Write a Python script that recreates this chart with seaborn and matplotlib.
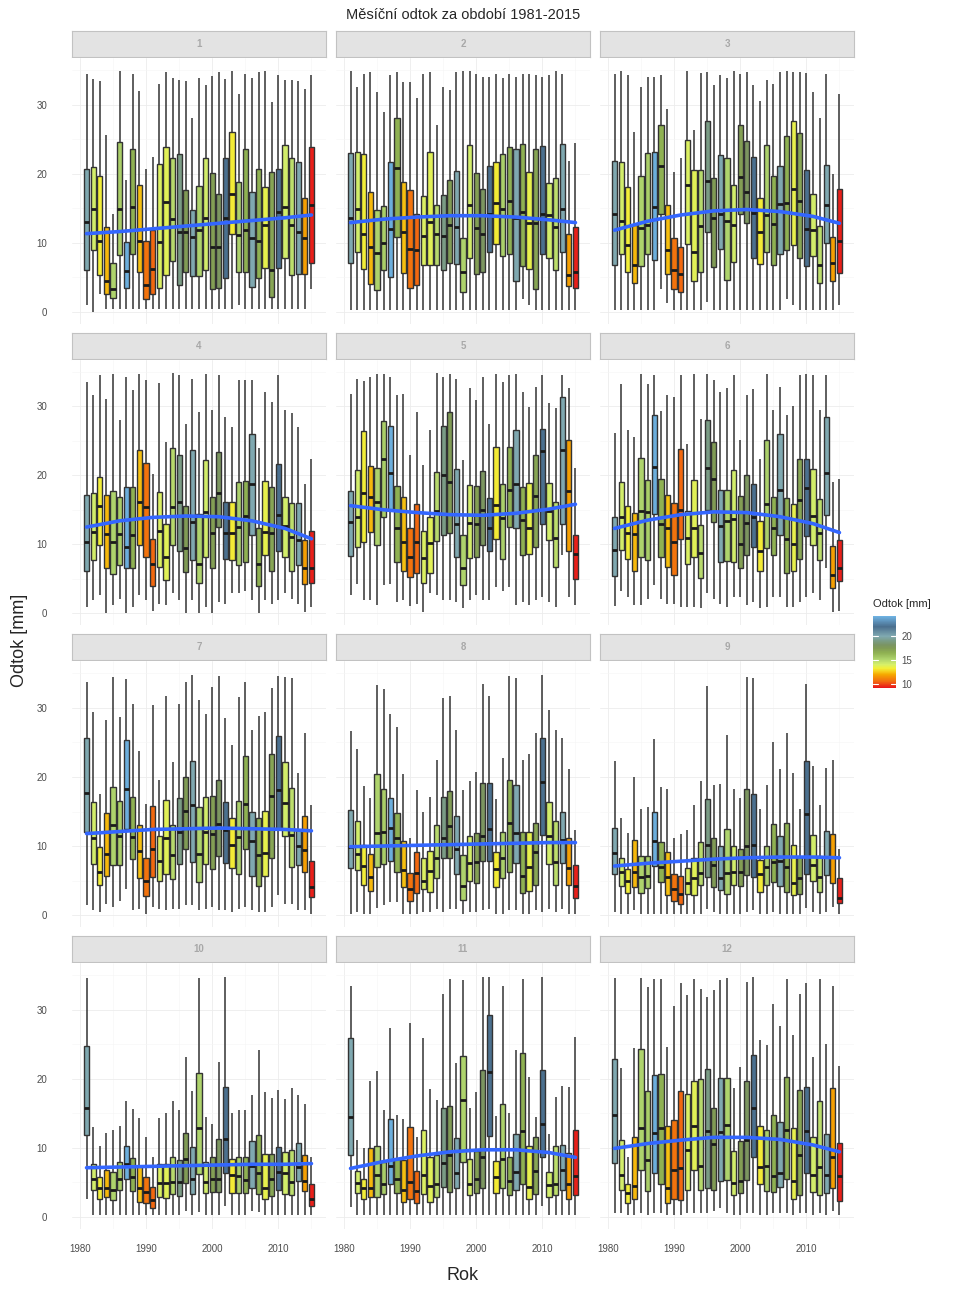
import pandas as pd
import seaborn as sns
import matplotlib.pyplot as plt
from matplotlib.colors import LinearSegmentedColormap, Normalize
from matplotlib.cm import ScalarMappable
from matplotlib.ticker import MultipleLocator

sns.set_theme(style="white")
plt.rcParams['font.family'] = ['Liberation Sans', 'DejaVu Sans']

W, H = 971, 1295

years = list(range(1981, 2016))
months = [str(i) for i in range(1, 13)]

# annual runoff used for the fill colour of every year
annual = [20.0, 14.2, 13.3, 12.3, 15.2, 15.4, 24.0, 16.5, 12.4, 10.8,
          10.6, 14.0, 13.8, 15.0, 19.0, 17.5, 20.0, 15.2, 14.2, 17.3,
          18.0, 22.0, 13.2, 15.3, 16.5, 20.0, 16.5, 13.6, 17.0, 22.0,
          14.2, 14.8, 20.0, 11.8, 9.4]

hi_vals = [
    [34.5, 33.7, 33.4, 25.6, 14.1, 34.8, 19.0, 34.4, 31.9, 20.7, 22.4, 33.0, 34.7, 33.8, 33.5, 33.4, 28.0, 33.9, 32.8, 34.2, 34.7, 33.7, 34.8, 31.6, 34.5, 33.9, 34.7, 34.8, 30.4, 34.3, 33.5, 33.5, 33.4, 32.2, 34.3],
    [34.8, 32.6, 34.5, 34.7, 31.8, 28.9, 34.3, 34.7, 33.3, 33.3, 31.0, 34.5, 34.7, 27.0, 32.6, 32.1, 34.7, 34.8, 34.8, 34.5, 34.0, 34.0, 34.5, 33.8, 34.5, 34.0, 34.5, 34.5, 34.3, 34.0, 34.3, 34.8, 34.5, 21.8, 24.4],
    [34.5, 34.8, 34.3, 26.0, 32.6, 34.0, 34.0, 34.3, 29.4, 20.2, 22.2, 34.8, 26.3, 34.6, 34.7, 32.9, 34.3, 33.8, 34.8, 34.5, 34.7, 32.8, 30.5, 33.5, 33.0, 34.7, 34.8, 34.7, 34.7, 34.6, 31.8, 28.1, 34.5, 20.0, 31.6],
    [33.5, 31.7, 34.5, 31.1, 34.7, 28.0, 34.2, 32.4, 34.7, 33.8, 20.2, 33.4, 24.8, 34.8, 34.6, 27.5, 34.0, 29.2, 34.7, 29.4, 34.5, 28.5, 27.0, 33.8, 33.8, 33.8, 23.9, 32.1, 30.6, 34.5, 29.4, 29.0, 27.0, 18.8, 22.4],
    [31.8, 34.0, 33.7, 34.3, 34.7, 34.7, 34.3, 31.6, 31.8, 22.9, 29.2, 21.5, 26.5, 34.8, 34.3, 34.7, 34.0, 22.2, 32.6, 30.9, 34.3, 27.5, 34.7, 33.5, 34.5, 34.7, 32.1, 29.9, 32.8, 34.5, 30.5, 29.7, 34.6, 32.7, 21.0],
    [26.1, 33.2, 26.5, 25.6, 34.7, 33.2, 34.5, 29.3, 31.7, 31.4, 34.6, 24.6, 34.7, 28.1, 34.7, 33.8, 32.0, 32.7, 34.5, 25.1, 31.6, 32.5, 22.4, 34.7, 29.5, 32.8, 28.7, 30.1, 34.5, 34.7, 34.5, 29.4, 34.5, 19.0, 19.5],
    [33.8, 29.4, 17.6, 28.2, 34.5, 28.7, 34.2, 30.6, 23.7, 16.1, 30.4, 19.5, 31.8, 22.2, 30.6, 33.8, 34.8, 31.1, 29.2, 33.0, 34.7, 28.5, 24.7, 31.6, 33.7, 26.8, 28.8, 29.4, 32.9, 34.7, 34.5, 34.3, 20.6, 26.4, 16.0],
    [26.6, 24.0, 18.7, 16.9, 33.3, 32.8, 29.2, 27.2, 20.4, 11.2, 18.1, 14.9, 17.1, 22.4, 31.4, 31.8, 26.8, 18.1, 19.4, 20.7, 33.5, 31.8, 16.8, 22.8, 34.7, 34.3, 22.4, 23.4, 26.4, 34.8, 29.7, 26.8, 25.7, 21.1, 12.3],
    [22.3, 14.1, 11.9, 20.0, 15.4, 15.6, 25.5, 18.5, 18.2, 11.1, 11.8, 12.3, 16.0, 19.4, 33.2, 18.9, 19.0, 26.1, 18.3, 16.9, 34.5, 34.3, 15.3, 18.8, 25.1, 21.2, 26.4, 20.6, 15.3, 33.5, 21.6, 16.0, 21.3, 22.4, 9.5],
    [34.6, 13.0, 10.2, 12.1, 12.5, 13.1, 16.8, 15.6, 14.3, 11.5, 8.7, 14.3, 15.0, 16.7, 15.4, 23.1, 18.2, 34.6, 14.4, 13.5, 22.4, 34.8, 15.0, 15.4, 15.4, 17.7, 24.2, 18.1, 17.2, 18.3, 17.1, 18.6, 17.7, 16.4, 8.7],
    [33.4, 11.1, 9.9, 19.7, 21.1, 15.5, 27.4, 14.8, 14.1, 28.1, 11.6, 25.9, 18.5, 16.9, 32.3, 34.5, 22.3, 34.3, 15.7, 18.1, 34.7, 34.8, 14.6, 33.5, 15.0, 24.2, 34.5, 20.3, 14.4, 34.8, 12.0, 17.3, 18.9, 18.8, 26.1],
    [34.6, 21.5, 8.7, 24.4, 34.6, 33.3, 34.5, 34.5, 24.6, 30.5, 33.9, 32.2, 34.5, 33.0, 31.8, 32.8, 34.3, 34.6, 18.6, 21.7, 34.0, 34.7, 25.6, 24.9, 30.8, 27.6, 34.5, 26.4, 32.3, 33.9, 23.1, 34.5, 25.1, 33.5, 21.8],
]

q3_vals = [
    [20.6, 21.0, 19.6, 12.2, 7.1, 24.6, 10.1, 23.6, 18.3, 10.2, 11.8, 21.4, 23.9, 22.3, 22.9, 17.6, 14.7, 18.2, 22.2, 20.1, 17.0, 22.2, 26.0, 18.8, 23.6, 17.3, 20.6, 18.1, 20.2, 20.6, 24.1, 22.3, 21.7, 16.4, 23.9],
    [23.0, 23.2, 22.9, 17.4, 14.7, 15.3, 21.7, 28.1, 18.8, 17.6, 14.1, 16.8, 23.2, 15.4, 16.9, 19.0, 20.4, 10.6, 24.2, 20.1, 17.8, 21.1, 21.7, 22.8, 23.9, 23.6, 24.3, 20.3, 23.5, 24.0, 18.6, 19.3, 24.3, 11.3, 12.3],
    [21.8, 21.7, 18.1, 12.5, 19.7, 23.0, 23.1, 27.0, 15.4, 10.6, 9.4, 24.8, 20.5, 20.5, 27.6, 19.4, 22.7, 22.2, 18.4, 27.1, 24.7, 22.4, 16.4, 24.2, 19.6, 21.1, 25.5, 27.6, 25.9, 20.5, 17.1, 12.4, 21.3, 10.8, 17.7],
    [17.2, 17.4, 19.8, 17.1, 17.7, 16.8, 18.3, 18.3, 23.7, 21.8, 10.7, 17.6, 12.9, 23.9, 22.9, 15.5, 23.6, 14.4, 22.2, 16.8, 23.4, 16.1, 16.1, 19.0, 19.2, 26.0, 12.3, 19.2, 18.3, 21.7, 16.9, 16.0, 16.0, 10.6, 12.0],
    [17.7, 20.8, 26.4, 21.3, 21.1, 27.9, 27.1, 18.5, 16.8, 12.4, 15.9, 11.9, 14.0, 20.5, 27.2, 29.1, 20.9, 11.4, 18.6, 18.5, 20.6, 16.7, 24.1, 18.7, 24.1, 26.6, 18.3, 18.9, 23.0, 26.7, 18.9, 16.1, 31.4, 25.1, 11.4],
    [14.0, 19.0, 15.6, 14.5, 22.5, 19.3, 28.8, 19.4, 17.2, 16.0, 23.8, 14.8, 19.3, 12.8, 28.0, 24.8, 17.8, 17.9, 20.7, 17.0, 20.0, 18.8, 13.4, 25.1, 16.8, 26.0, 16.7, 15.8, 22.3, 22.3, 20.9, 16.6, 28.4, 9.8, 10.6],
    [25.6, 16.4, 9.8, 14.8, 18.5, 16.5, 25.3, 17.1, 13.0, 8.2, 15.8, 11.4, 16.6, 13.0, 17.0, 20.0, 22.3, 15.6, 17.1, 17.3, 19.5, 16.4, 14.1, 16.5, 23.0, 15.0, 14.1, 15.1, 23.3, 25.9, 22.2, 18.4, 12.3, 14.4, 7.9],
    [15.2, 13.6, 10.2, 8.9, 20.4, 18.2, 17.0, 14.8, 10.7, 6.1, 9.2, 8.2, 9.3, 13.0, 17.1, 17.9, 14.3, 8.7, 11.4, 11.9, 19.2, 19.1, 9.1, 12.1, 19.5, 18.9, 12.0, 12.0, 13.4, 25.6, 16.4, 13.6, 15.0, 11.1, 7.3],
    [12.6, 8.3, 6.7, 10.8, 8.6, 8.6, 15.0, 10.6, 9.1, 6.0, 5.6, 6.8, 8.2, 10.6, 16.8, 11.1, 10.0, 12.5, 10.0, 9.6, 18.2, 17.5, 8.0, 10.0, 13.2, 11.5, 13.3, 10.2, 8.4, 22.3, 11.6, 8.6, 12.2, 11.8, 5.3],
    [24.8, 7.6, 5.7, 6.7, 6.5, 7.9, 10.3, 8.5, 7.4, 5.8, 4.3, 7.7, 7.7, 8.7, 8.2, 12.2, 10.1, 20.8, 7.9, 8.7, 11.3, 18.8, 8.3, 8.7, 8.6, 11.0, 11.9, 9.1, 9.1, 10.1, 9.4, 9.6, 10.7, 9.0, 4.8],
    [25.9, 6.6, 5.4, 9.9, 10.3, 7.9, 14.2, 8.3, 8.2, 13.0, 6.6, 12.6, 8.7, 8.9, 15.8, 16.1, 11.4, 23.3, 8.3, 9.5, 21.3, 29.3, 8.1, 16.3, 8.7, 12.0, 23.7, 10.2, 11.6, 21.3, 6.5, 10.2, 10.4, 9.3, 12.6],
    [22.8, 11.1, 4.7, 11.5, 24.3, 18.2, 20.5, 20.7, 13.1, 14.0, 18.2, 17.8, 19.6, 19.9, 21.4, 15.7, 20.1, 20.1, 9.5, 10.9, 19.7, 23.4, 13.2, 12.5, 14.7, 13.7, 20.2, 12.9, 18.3, 18.8, 11.5, 16.7, 12.0, 18.7, 10.7],
]

med_vals = [
    [13.0, 14.9, 10.3, 4.4, 3.3, 14.8, 5.9, 15.1, 10.3, 3.8, 6.2, 10.1, 15.9, 13.4, 11.5, 11.6, 10.8, 11.8, 13.6, 9.3, 9.3, 13.5, 17.1, 11.1, 11.8, 10.6, 10.3, 12.5, 6.1, 14.4, 15.1, 12.5, 11.6, 10.6, 15.4],
    [13.5, 14.8, 11.3, 9.3, 8.5, 10.0, 11.9, 20.8, 11.6, 9.1, 9.0, 11.0, 13.0, 11.2, 10.9, 12.5, 12.3, 5.7, 15.4, 12.1, 11.2, 14.2, 15.8, 14.9, 16.1, 13.5, 14.4, 12.8, 12.8, 14.1, 14.0, 12.3, 14.8, 5.3, 5.8],
    [14.2, 13.2, 9.6, 6.7, 12.1, 12.5, 15.2, 21.1, 9.0, 6.1, 5.5, 18.3, 8.7, 12.4, 18.9, 13.5, 14.2, 13.1, 12.5, 19.5, 17.3, 14.3, 11.5, 14.0, 12.7, 15.6, 15.8, 17.8, 16.0, 11.9, 11.8, 6.7, 15.4, 7.0, 10.3],
    [10.4, 11.8, 15.6, 11.5, 10.4, 11.5, 9.6, 11.3, 16.1, 15.4, 7.2, 11.9, 8.1, 15.4, 16.2, 9.5, 13.2, 7.2, 14.7, 11.7, 17.5, 11.7, 11.6, 12.5, 14.1, 18.7, 7.2, 11.8, 11.6, 14.2, 12.6, 11.0, 10.6, 6.5, 6.5],
    [13.3, 14.0, 17.4, 16.9, 16.2, 22.3, 20.4, 12.4, 10.3, 8.2, 10.4, 8.0, 10.2, 14.8, 20.1, 19.0, 12.9, 6.5, 13.1, 12.9, 14.9, 12.4, 15.7, 13.8, 17.8, 18.8, 13.5, 12.3, 17.0, 23.5, 14.8, 10.9, 23.6, 17.7, 8.6],
    [9.2, 14.0, 11.7, 11.5, 14.8, 14.7, 21.2, 12.9, 12.4, 10.4, 14.9, 10.9, 12.4, 8.8, 21.1, 19.5, 12.7, 13.4, 13.7, 10.0, 13.1, 14.0, 9.0, 15.9, 12.4, 17.8, 10.7, 10.0, 16.4, 18.2, 14.1, 11.6, 20.3, 5.6, 6.6],
    [17.7, 11.1, 6.3, 8.8, 13.0, 11.5, 18.3, 11.3, 9.3, 5.0, 9.6, 7.9, 11.1, 8.7, 12.0, 15.1, 15.9, 8.9, 12.0, 11.7, 13.2, 12.3, 10.2, 11.3, 16.1, 10.7, 8.7, 9.0, 17.3, 18.1, 16.3, 11.6, 10.0, 9.4, 4.1],
    [9.9, 8.9, 7.1, 5.5, 11.9, 12.1, 12.6, 11.2, 6.5, 3.7, 6.1, 5.0, 6.4, 8.3, 11.2, 12.9, 9.5, 4.2, 7.5, 7.7, 11.5, 12.5, 6.6, 8.2, 13.3, 11.9, 5.7, 6.9, 9.1, 19.3, 11.4, 7.7, 10.9, 6.8, 4.2],
    [9.0, 6.2, 4.9, 6.2, 5.5, 5.7, 10.7, 7.0, 5.5, 3.8, 3.1, 4.7, 5.3, 6.1, 10.2, 7.3, 5.3, 6.1, 6.2, 6.3, 10.0, 10.1, 5.9, 6.9, 7.7, 7.8, 7.0, 4.7, 5.4, 14.6, 7.2, 5.5, 8.4, 8.4, 2.4],
    [15.8, 5.5, 4.2, 4.1, 3.8, 5.5, 7.7, 5.8, 4.2, 3.6, 2.4, 4.9, 4.9, 5.0, 5.0, 8.4, 5.4, 12.9, 5.0, 5.5, 5.5, 11.2, 6.0, 5.9, 5.3, 7.4, 6.4, 4.1, 5.4, 6.5, 6.3, 5.0, 7.2, 5.2, 2.6],
    [14.4, 4.9, 4.1, 4.2, 6.1, 4.8, 7.4, 5.5, 3.8, 5.0, 3.7, 6.0, 4.4, 4.8, 7.8, 9.0, 6.4, 16.9, 4.7, 5.4, 8.7, 21.0, 5.7, 8.3, 5.2, 6.5, 12.4, 4.3, 6.6, 13.5, 4.6, 4.8, 6.7, 4.7, 5.9],
    [14.7, 6.0, 3.5, 4.5, 12.8, 8.2, 12.1, 12.9, 4.2, 6.7, 7.1, 9.6, 13.2, 7.4, 12.4, 10.6, 12.3, 13.3, 4.9, 5.2, 11.1, 15.8, 7.2, 7.4, 5.9, 6.3, 12.5, 5.2, 8.9, 12.4, 6.0, 7.2, 6.0, 8.6, 5.9],
]

q1_vals = [
    [6.1, 8.9, 5.3, 2.6, 2.0, 8.2, 3.4, 8.4, 5.7, 1.9, 2.5, 3.4, 5.3, 7.4, 3.8, 5.7, 5.1, 5.2, 6.0, 3.3, 3.4, 4.9, 11.2, 5.7, 5.7, 3.5, 4.9, 6.3, 2.1, 6.3, 7.8, 5.3, 5.4, 5.5, 7.1],
    [7.1, 8.6, 6.2, 4.0, 3.1, 6.1, 5.0, 10.8, 5.6, 3.4, 3.8, 6.7, 6.7, 6.7, 6.1, 7.1, 6.9, 2.8, 7.8, 5.5, 5.7, 8.7, 9.8, 8.0, 8.3, 4.5, 6.6, 6.2, 3.3, 8.3, 7.7, 6.1, 8.7, 3.7, 3.4],
    [6.7, 8.4, 5.7, 4.1, 6.6, 8.3, 7.5, 14.2, 5.5, 3.3, 2.9, 9.8, 4.5, 5.8, 11.5, 6.5, 9.1, 4.6, 7.2, 14.2, 12.8, 7.7, 6.9, 8.7, 6.8, 8.4, 9.0, 9.6, 7.8, 6.6, 8.0, 4.1, 10.0, 4.5, 5.6],
    [6.1, 7.7, 9.9, 6.6, 5.7, 7.0, 6.5, 6.6, 9.9, 8.1, 3.9, 6.7, 4.8, 9.9, 9.1, 6.0, 7.7, 4.4, 8.2, 6.5, 12.5, 7.9, 7.7, 7.0, 7.5, 11.3, 3.9, 8.4, 6.1, 9.0, 8.2, 6.2, 7.0, 4.2, 4.4],
    [8.3, 9.6, 10.3, 11.8, 9.9, 14.0, 14.9, 7.4, 6.1, 5.3, 5.8, 4.4, 5.9, 10.5, 11.3, 11.7, 8.2, 4.1, 8.0, 8.2, 9.9, 9.0, 10.7, 7.8, 12.5, 12.3, 8.4, 8.6, 9.6, 13.0, 10.6, 6.7, 13.0, 9.0, 5.0],
    [5.4, 9.2, 7.8, 6.1, 8.2, 7.7, 14.4, 8.2, 6.7, 5.6, 10.8, 7.1, 8.2, 5.1, 15.0, 13.2, 7.4, 7.6, 7.5, 6.5, 8.4, 9.6, 6.1, 9.4, 8.5, 11.3, 5.9, 6.1, 7.8, 11.2, 9.9, 7.7, 14.2, 3.6, 4.7],
    [12.0, 7.4, 4.4, 5.7, 7.2, 7.3, 12.5, 8.1, 5.4, 2.8, 5.5, 4.9, 6.0, 5.2, 7.4, 9.5, 7.7, 4.8, 7.4, 6.7, 8.6, 7.5, 6.8, 5.9, 9.6, 5.6, 4.2, 5.7, 8.2, 12.5, 11.5, 7.0, 7.3, 6.3, 2.6],
    [6.8, 6.5, 4.4, 3.5, 6.9, 7.4, 7.9, 6.3, 4.0, 2.0, 3.2, 3.8, 3.3, 5.4, 8.2, 8.3, 5.9, 2.2, 4.9, 4.6, 7.8, 7.8, 4.1, 5.4, 6.3, 7.5, 3.2, 3.5, 4.4, 11.6, 7.4, 4.4, 7.5, 4.3, 2.5],
    [6.0, 4.2, 3.2, 4.1, 3.2, 3.9, 7.1, 4.8, 2.9, 2.1, 1.6, 3.0, 2.9, 4.4, 5.5, 4.1, 3.6, 3.1, 4.3, 4.2, 5.8, 5.5, 3.3, 4.3, 4.8, 4.2, 3.3, 2.9, 3.0, 6.0, 4.9, 3.4, 5.8, 4.7, 1.7],
    [11.9, 3.9, 2.6, 2.9, 2.4, 3.8, 5.4, 3.7, 2.2, 2.0, 1.2, 2.9, 2.7, 3.3, 3.0, 4.9, 3.3, 6.2, 3.4, 3.6, 3.6, 6.3, 3.4, 3.4, 3.4, 4.1, 3.3, 2.5, 3.0, 3.9, 3.3, 3.2, 5.2, 3.7, 1.5],
    [9.0, 3.4, 2.5, 2.8, 2.9, 3.3, 4.8, 3.4, 2.1, 2.6, 2.0, 3.3, 2.1, 2.9, 4.3, 3.6, 4.1, 7.9, 3.2, 3.4, 4.1, 11.7, 3.4, 4.2, 3.2, 3.8, 4.8, 2.5, 3.3, 8.7, 2.8, 3.1, 3.9, 2.6, 3.2],
    [7.8, 3.9, 2.0, 2.5, 6.7, 3.7, 6.3, 4.7, 2.0, 2.6, 2.4, 3.8, 6.7, 3.9, 4.2, 3.9, 5.2, 5.3, 3.2, 3.4, 5.3, 8.6, 4.8, 3.7, 3.6, 4.3, 5.4, 2.6, 3.2, 6.3, 3.6, 3.1, 3.4, 4.2, 2.3],
]

lo_vals = [
    [0.9, 0.0, 2.6, 0.4, 0.4, 0.4, 0.4, 0.4, 0.4, 0.4, 0.4, 0.4, 0.4, 0.4, 0.4, 0.4, 0.4, 0.4, 0.4, 0.4, 0.4, 0.4, 0.4, 0.9, 0.4, 0.4, 0.4, 0.4, 0.4, 0.4, 0.4, 0.4, 0.4, 0.4, 3.3],
    [0.2, 0.2, 0.2, 0.2, 0.2, 0.2, 0.2, 0.2, 0.2, 0.2, 0.2, 0.2, 0.2, 0.2, 0.2, 0.2, 0.2, 0.2, 0.2, 0.2, 0.2, 0.2, 0.2, 0.2, 0.2, 0.2, 1.9, 0.9, 0.2, 0.2, 0.2, 0.2, 0.2, 0.2, 0.2],
    [0.2, 0.2, 0.2, 0.2, 0.2, 0.2, 0.2, 3.3, 1.2, 0.2, 0.2, 0.2, 0.2, 0.2, 1.4, 0.2, 0.2, 0.2, 0.2, 0.2, 0.2, 0.2, 0.2, 0.2, 0.2, 0.2, 1.9, 0.9, 0.2, 0.2, 0.2, 0.2, 0.2, 0.2, 0.9],
    [0.9, 1.9, 2.6, 0.0, 1.2, 2.1, 0.0, 0.9, 2.6, 1.9, 0.4, 1.4, 1.2, 2.9, 1.9, 0.0, 1.9, 0.0, 0.9, 0.0, 1.6, 1.4, 2.9, 2.9, 3.3, 1.9, 0.0, 1.9, 1.4, 1.9, 2.9, 2.1, 1.4, 0.2, 0.9],
    [2.6, 4.2, 2.0, 2.0, 1.2, 4.1, 4.2, 1.6, 1.9, 1.0, 1.4, 0.2, 2.9, 2.6, 1.9, 2.0, 1.6, 0.7, 1.9, 2.6, 1.9, 1.9, 3.8, 3.3, 3.8, 1.2, 1.6, 1.2, 1.9, 2.4, 1.6, 0.9, 8.4, 2.3, 1.2],
    [1.0, 3.3, 2.4, 1.2, 1.2, 2.1, 4.1, 2.1, 1.4, 1.4, 0.9, 0.9, 0.9, 0.7, 2.9, 2.1, 1.4, 0.9, 2.4, 2.4, 1.2, 1.6, 0.7, 0.9, 2.4, 2.4, 0.9, 0.9, 1.6, 2.4, 2.9, 1.9, 6.5, 0.2, 0.3],
    [1.4, 0.7, 0.4, 1.6, 1.2, 2.1, 3.8, 0.7, 0.9, 0.2, 1.2, 0.9, 0.7, 0.9, 0.9, 1.5, 1.4, 0.7, 0.9, 1.2, 0.7, 0.7, 0.4, 0.9, 1.2, 0.7, 0.4, 0.5, 1.2, 2.9, 1.6, 1.6, 0.7, 0.7, 0.2],
    [0.2, 0.4, 0.2, 0.2, 1.0, 1.4, 1.9, 1.9, 0.2, 0.2, 0.2, 0.4, 0.4, 0.9, 0.4, 0.9, 0.9, 0.2, 0.4, 0.4, 0.7, 0.9, 0.2, 0.2, 0.7, 0.7, 0.2, 0.2, 0.7, 0.5, 0.9, 0.4, 0.9, 0.2, 0.2],
    [0.5, 0.2, 0.2, 0.7, 0.2, 0.2, 0.2, 0.2, 0.2, 0.2, 0.2, 0.2, 0.2, 0.2, 0.9, 0.4, 0.2, 0.2, 0.2, 0.2, 0.4, 0.7, 0.2, 0.2, 0.4, 0.2, 0.2, 0.2, 0.2, 1.0, 0.4, 0.2, 0.4, 1.1, 0.2],
    [2.6, 0.2, 0.2, 0.2, 0.2, 0.2, 0.2, 0.2, 0.2, 0.2, 0.2, 0.2, 0.2, 0.2, 0.2, 0.9, 0.2, 0.7, 0.2, 0.2, 0.2, 1.6, 0.2, 0.2, 0.2, 0.9, 0.7, 0.2, 0.2, 0.2, 0.2, 0.2, 0.2, 0.2, 0.2],
    [1.4, 0.2, 0.2, 0.2, 0.2, 0.2, 0.2, 0.2, 0.2, 0.2, 0.2, 0.2, 0.2, 0.2, 0.2, 0.2, 0.2, 0.2, 0.2, 0.2, 0.2, 0.2, 0.2, 0.2, 0.2, 0.2, 0.2, 0.2, 0.2, 1.6, 0.2, 0.2, 0.2, 0.2, 0.2],
    [0.5, 0.5, 0.2, 0.2, 0.5, 0.2, 0.5, 0.5, 0.2, 0.2, 0.2, 0.5, 0.5, 0.5, 0.5, 0.9, 1.2, 0.5, 0.2, 0.2, 0.5, 0.5, 0.2, 0.2, 0.5, 0.5, 0.5, 0.2, 0.5, 0.5, 0.2, 0.5, 0.2, 0.9, 0.2],
]

# smooth trend
trend_years = [1981, 1986, 1991, 1996, 2001, 2006, 2011, 2015]
trend_vals = [
    [11.3, 11.6, 12.0, 12.4, 12.8, 13.2, 13.6, 14.0],
    [12.9, 13.4, 13.7, 13.9, 13.9, 13.7, 13.3, 12.9],
    [11.8, 13.1, 14.0, 14.6, 14.8, 14.5, 13.8, 12.8],
    [12.5, 13.4, 13.9, 14.1, 14.0, 13.4, 12.3, 10.8],
    [15.6, 15.0, 14.6, 14.3, 14.2, 14.5, 15.1, 15.8],
    [12.3, 13.5, 14.3, 14.7, 14.6, 14.0, 13.0, 11.7],
    [11.8, 12.1, 12.4, 12.5, 12.6, 12.5, 12.4, 12.2],
    [9.9, 10.0, 10.1, 10.2, 10.3, 10.4, 10.5, 10.5],
    [7.1, 7.5, 7.8, 8.1, 8.3, 8.4, 8.4, 8.3],
    [7.1, 7.2, 7.3, 7.4, 7.5, 7.6, 7.6, 7.7],
    [7.0, 8.0, 8.8, 9.4, 9.7, 9.7, 9.3, 8.6],
    [9.9, 10.6, 11.1, 11.5, 11.5, 11.2, 10.4, 9.4],
]

# colour scale of the fill
vmin, vmax = 9.2, 24.2
stops = [(9.2, "#e8141a"), (10.6, "#f26b0f"), (12.0, "#f5a800"), (12.6, "#f7cc1a"),
         (13.3, "#f2f03a"), (14.1, "#d6f06a"), (15.2, "#aed36c"), (16.5, "#8fb152"),
         (17.5, "#809b55"), (18.2, "#7a9464"), (19.0, "#7a9c84"), (20.0, "#80a9b0"),
         (22.0, "#4b6f8e"), (24.2, "#6fb3e3")]
cmap = LinearSegmentedColormap.from_list(
    "odtok", [((v - vmin) / (vmax - vmin), c) for v, c in stops])
norm = Normalize(vmin, vmax)
palette = {str(y): cmap(norm(a)) for y, a in zip(years, annual)}


def rect(x, y, w, h):
    return [x / W, 1 - (y + h) / H, w / W, h / H]


fig = plt.figure(figsize=(W / 100, H / 100), dpi=100)

for i, m in enumerate(months):
    r, c = divmod(i, 3)
    x0 = 72 + c * 264
    ys = 31 + r * 301.7

    sax = fig.add_axes(rect(x0, ys, 254, 26))
    sax.set_facecolor("#e3e3e3")
    for s in sax.spines.values():
        s.set_color("#c2c2c2")
        s.set_linewidth(0.8)
    sax.set_xticks([])
    sax.set_yticks([])
    sax.text(0.5, 0.5, m, ha="center", va="center", fontsize=7,
             fontweight="bold", color="#a8a8a8", transform=sax.transAxes)

    ax = fig.add_axes(rect(x0, ys + 27, 254, 265.7))
    rows = []
    for j, y in enumerate(years):
        for v in (lo_vals[i][j], q1_vals[i][j], med_vals[i][j], q3_vals[i][j], hi_vals[i][j]):
            rows.append({"Rok": y, "yr": str(y), "odtok": v})
    df = pd.DataFrame(rows)

    sns.boxplot(data=df, x="Rok", y="odtok", hue="yr", palette=palette,
                native_scale=True, dodge=False, width=0.8, whis=(0, 100),
                saturation=1, linewidth=1.0, linecolor="#333333",
                showcaps=False, legend=False, ax=ax,
                whiskerprops=dict(color="#333333", linewidth=1.1),
                medianprops=dict(color="#1a1a1a", linewidth=2.0))
    sns.lineplot(x=trend_years, y=trend_vals[i], color="#3366FF",
                 linewidth=2.6, ax=ax, zorder=5)

    ax.set_xlim(1978.8, 2017.2)
    ax.set_ylim(-1.75, 36.75)
    ax.set_xticks([1980, 1990, 2000, 2010])
    ax.set_yticks([0, 10, 20, 30])
    ax.xaxis.set_minor_locator(MultipleLocator(5))
    ax.yaxis.set_minor_locator(MultipleLocator(5))
    ax.grid(which="major", color="#ececec", linewidth=0.6)
    ax.grid(which="minor", color="#f5f5f5", linewidth=0.4)
    ax.set_axisbelow(True)
    for s in ax.spines.values():
        s.set_visible(False)
    ax.set_xlabel("")
    ax.set_ylabel("")
    ax.tick_params(which="both", length=0, labelsize=7, colors="#4d4d4d")
    ax.tick_params(axis="y", pad=18)
    ax.tick_params(axis="x", pad=11)
    if c != 0:
        ax.tick_params(labelleft=False)
    if r != 3:
        ax.tick_params(labelbottom=False)

fig.text(463 / W, 1 - 15 / H, "Měsíční odtok za období 1981-2015",
         ha="center", va="center", fontsize=10.5)
fig.text(20 / W, 1 - 640 / H, "Odtok [mm]", rotation=90,
         ha="center", va="center", fontsize=13)
fig.text(463 / W, 1 - 1276 / H, "Rok", ha="center", va="center", fontsize=13)
fig.text(873 / W, 1 - 604 / H, "Odtok [mm]", ha="left", va="center", fontsize=8)

cax = fig.add_axes(rect(873, 616, 23, 72))
cb = fig.colorbar(ScalarMappable(norm=norm, cmap=cmap), cax=cax, ticks=[10, 15, 20])
cb.outline.set_visible(False)
cax.tick_params(length=0, labelsize=7, pad=4, colors="#4d4d4d")
for v in (10, 15, 20):
    cax.plot([0, 0.2], [v, v], color="white", lw=0.8, transform=cax.get_yaxis_transform())
    cax.plot([0.8, 1], [v, v], color="white", lw=0.8, transform=cax.get_yaxis_transform())

fig.savefig("out.png", dpi=100)
